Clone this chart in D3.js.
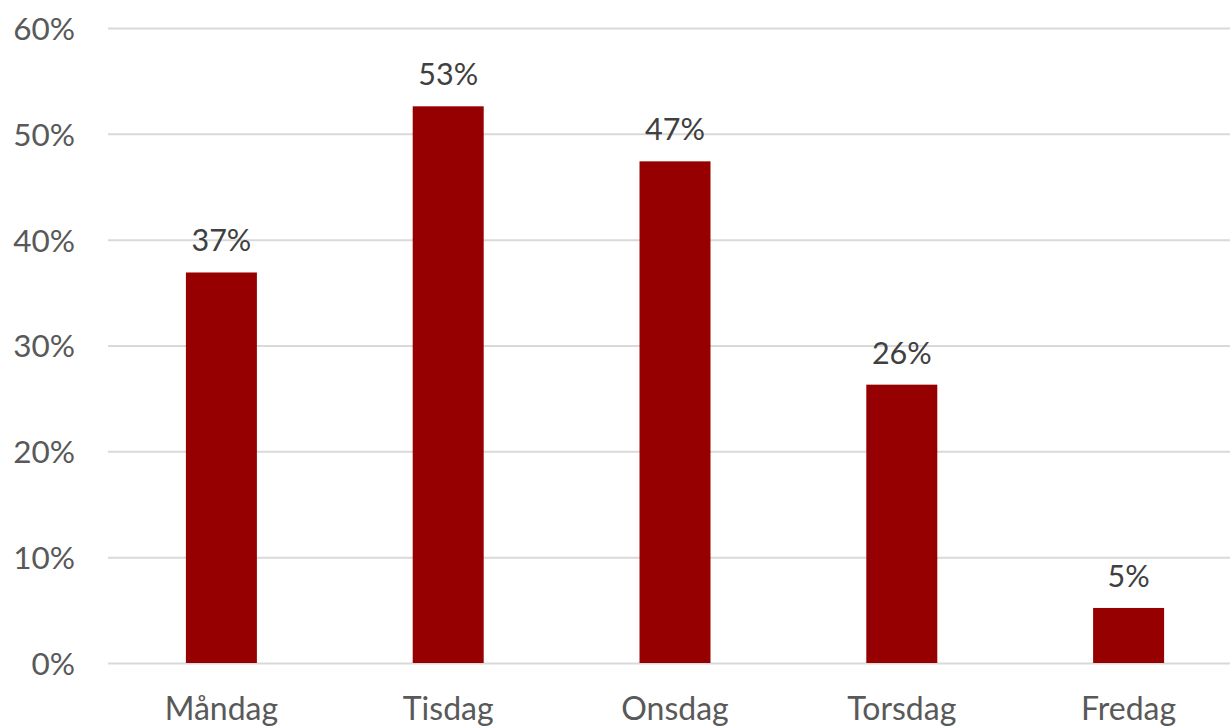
<!DOCTYPE html>
<html>
<head>
<meta charset="utf-8">
<script src="https://cdn.jsdelivr.net/npm/d3@7"></script>
<style>
  body { margin: 0; background: #fff; }
  svg { display: block; }
  .tick text { font-family: Lato, "Open Sans", sans-serif; }
</style>
</head>
<body>
<div id="chart"></div>
<script>
// data
var days = ["Måndag", "Tisdag", "Onsdag", "Torsdag", "Fredag"]
var shares = [0.369, 0.526, 0.474, 0.263, 0.052]
var yTicks = [0, 0.1, 0.2, 0.3, 0.4, 0.5, 0.6]

var W = 1230, H = 726
var margin = {top: 28, right: -12, bottom: 63, left: 108}
var width = W - margin.left - margin.right,
    height = H - margin.top - margin.bottom

var svg = d3.select("#chart").append("svg")
    .attr("width", W)
    .attr("height", H)
  .append("g")
    .attr("transform", "translate(" + margin.left + "," + margin.top + ")")

var x = d3.scaleBand()
    .domain(days)
    .range([0, width])
    .paddingInner(0.687)
    .paddingOuter(0.3435)

var y = d3.scaleLinear()
    .domain([0, 0.6])
    .range([height, 0])

// gridlines + y labels
var yaxis = svg.append("g")
    .call(d3.axisLeft(y).tickValues(yTicks).tickFormat(d3.format(".0%")).tickSize(-width).tickPadding(33))
yaxis.select(".domain").remove()
yaxis.selectAll(".tick line").attr("stroke", "#d9d9d9").attr("stroke-width", 2)
yaxis.selectAll(".tick text")
    .attr("fill", "#595959")
    .style("font-size", "31.5px")
    .attr("dy", "0.36em")

// bars
svg.append("g").selectAll("rect")
    .data(days)
    .enter().append("rect")
    .attr("x", d => x(d))
    .attr("width", x.bandwidth())
    .attr("y", (d, i) => y(shares[i]))
    .attr("height", (d, i) => height - y(shares[i]))
    .attr("fill", "#960000")

// value labels
svg.append("g").selectAll("text")
    .data(days)
    .enter().append("text")
    .attr("x", d => x(d) + x.bandwidth() / 2)
    .attr("y", (d, i) => y(shares[i]) - 21)
    .attr("text-anchor", "middle")
    .attr("fill", "#404040")
    .style("font-family", "Lato, 'Open Sans', sans-serif")
    .style("font-size", "30.5px")
    .text((d, i) => Math.round(shares[i] * 100) + "%")

// x axis labels
var xaxis = svg.append("g")
    .attr("transform", "translate(0," + height + ")")
    .call(d3.axisBottom(x).tickSize(0).tickPadding(34))
xaxis.select(".domain").remove()
xaxis.selectAll(".tick text")
    .attr("fill", "#595959")
    .style("font-size", "32px")
</script>
</body>
</html>
